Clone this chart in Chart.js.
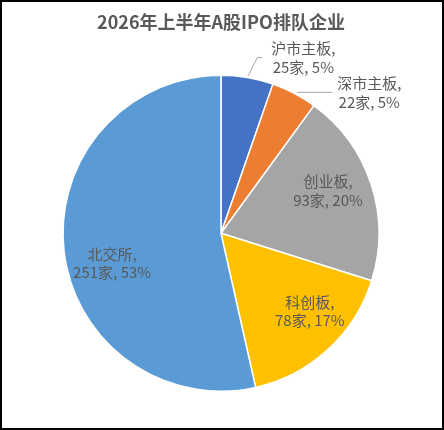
<!DOCTYPE html>
<html><head><meta charset="utf-8">
<script src="https://cdn.jsdelivr.net/npm/chart.js@4.4.0/dist/chart.umd.min.js"></script>
<style>
html,body{margin:0;padding:0;background:#fff;}
#wrap{width:444px;height:430px;box-sizing:border-box;border:2px solid #000;position:relative;background:#fff;}
canvas{display:block;}
</style></head><body>
<div id="wrap"><canvas id="c"></canvas></div>
<script>
const titleText = '2026年上半年A股IPO排队企业';
const categories = ['沪市主板','深市主板','创业板','科创板','北交所'];
const counts = [25, 22, 93, 78, 251];
const percentLabels = ['5%','5%','20%','17%','53%'];
const colors = ['#4472C4','#ED7D31','#A5A5A5','#FFC000','#5B9BD5'];

// label placement (style): outside labels get leader lines, relative to slice edge point
const labelCfg = [
  {outside:true, line:[[1,-2],[10,-20],[15,-20]], text:[56,-20]},
  {outside:true, line:[[3,-1],[38,-1]], text:[75,-1]},
  {outside:false, r:0.7, d:[2,-8]},
  {outside:false, r:0.7, d:[14,-3.5]},
  {outside:false, r:0.7, d:[1,17.5]}
];

const FONT = '"Noto Sans CJK SC", "Noto Sans", sans-serif';

const labelPlugin = {
  id:'sliceLabels',
  afterDatasetsDraw(chart){
    const ctx = chart.ctx;
    const meta = chart.getDatasetMeta(0);
    ctx.save();
    ctx.font = '15px ' + FONT;
    ctx.textAlign = 'center';
    ctx.textBaseline = 'middle';
    meta.data.forEach((arc, i) => {
      const p = arc.getProps(['x','y','startAngle','endAngle','outerRadius'], true);
      const mid = (p.startAngle + p.endAngle) / 2;
      const cfg = labelCfg[i];
      let cx, cy;
      if (cfg.outside) {
        const ex = p.x + Math.cos(mid) * p.outerRadius;
        const ey = p.y + Math.sin(mid) * p.outerRadius;
        ctx.strokeStyle = '#A6A6A6';
        ctx.lineWidth = 1;
        ctx.beginPath();
        cfg.line.forEach((pt, k) => {
          const X = ex + pt[0], Y = ey + pt[1];
          if (k === 0) ctx.moveTo(X, Y); else ctx.lineTo(X, Y);
        });
        ctx.stroke();
        cx = ex + cfg.text[0]; cy = ey + cfg.text[1];
      } else {
        const rr = p.outerRadius * cfg.r;
        cx = p.x + Math.cos(mid) * rr + cfg.d[0];
        cy = p.y + Math.sin(mid) * rr + cfg.d[1];
      }
      ctx.fillStyle = '#595959';
      ctx.fillText(categories[i] + ',', cx, cy - 9);
      ctx.fillText(counts[i] + '家, ' + percentLabels[i], cx, cy + 9.5);
    });
    ctx.restore();
  }
};

new Chart(document.getElementById('c'), {
  type: 'pie',
  data: {
    labels: categories,
    datasets: [{
      data: counts,
      backgroundColor: colors,
      borderColor: '#FFFFFF',
      borderWidth: 1.5
    }]
  },
  options: {
    responsive: true,
    maintainAspectRatio: false,
    animation: false,
    layout: { padding: { top: 0, left: 60, right: 62, bottom: 36 } },
    plugins: {
      legend: { display: false },
      tooltip: { enabled: false },
      title: {
        display: true,
        text: titleText,
        color: '#595959',
        font: { family: FONT, size: 18, weight: 'bold' },
        padding: { top: 9, bottom: 42 }
      }
    }
  },
  plugins: [labelPlugin]
});
</script>
</body></html>
